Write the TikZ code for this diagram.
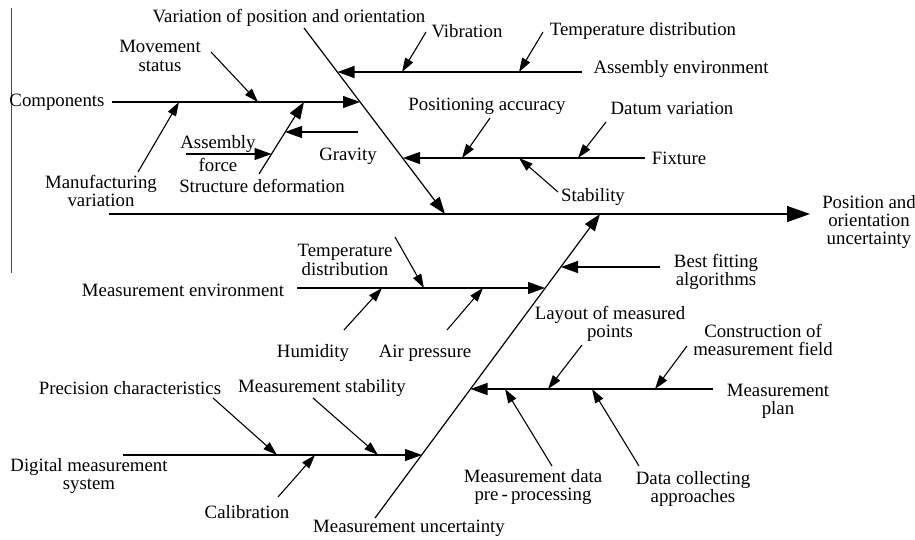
\documentclass[tikz,border=0pt]{standalone}
\usepackage{fontspec}
\setmainfont{Liberation Serif}
\usetikzlibrary{arrows.meta}
\begin{document}
\begin{tikzpicture}[x=1pt,y=-1pt,
  lbl/.style={font=\fontsize{18.8}{18.3}\selectfont, align=center, inner sep=0pt},
  spine/.style={line width=1.3pt, -{Triangle[length=23pt,width=16pt]}},
  bone/.style={line width=1.2pt, -{Triangle[length=17pt,width=12pt]}},
  cause/.style={line width=1.1pt, -{Triangle[length=14pt,width=9pt]}}]
\useasboundingbox (0,0) rectangle (915,539);
\fill[white] (0,0) rectangle (915,539);
% left border line
\coordinate (lt) at (11,8); \coordinate (lb) at (11,273);
\draw[line width=0.8pt, black!70] (lt) -- (lb);

% labels
\node[lbl] (varpos) at (289,18) {Variation of position and orientation};
\node[lbl] (vib) at (467,31) {Vibration};
\node[lbl] (tempdist) at (643,31) {Temperature distribution};
\node[lbl] (asmenv) at (681,69) {Assembly environment};
\node[lbl] (movst) at (160,56) {Movement\\status};
\node[lbl] (comp) at (57,102) {Components};
\node[lbl] (posacc) at (487,106) {Positioning accuracy};
\node[lbl] (datum) at (672,108) {Datum variation};
\node[lbl] (fixture) at (679,158) {Fixture};
\node[lbl] (asmf) at (218,144) {Assembly};
\node[lbl] (asmf2) at (218,165) {force};
\node[lbl] (gravity) at (348,156) {Gravity};
\node[lbl] (manuf) at (101,191) {Manufacturing\\variation};
\node[lbl] (structdef) at (262,186) {Structure deformation};
\node[lbl] (stability) at (593,197) {Stability};
\node[lbl] (result) at (869,222) {Position and\\orientation\\uncertainty};
\node[lbl] (temp2) at (345,260) {Temperature\\distribution};
\node[lbl] (bestfit) at (716,272) {Best fitting\\algorithms};
\node[lbl] (measenv) at (183,290) {Measurement environment};
\node[lbl] (layout) at (610,324) {Layout of measured\\points};
\node[lbl] (construct) at (763,340) {Construction of\\measurement field};
\node[lbl] (humidity) at (313,353) {Humidity};
\node[lbl] (airp) at (425,353) {Air pressure};
\node[lbl] (measplan) at (778,401) {Measurement\\plan};
\node[lbl] (precision) at (130,388) {Precision characteristics};
\node[lbl] (measstab) at (322,388) {Measurement stability};
\node[lbl] (digital) at (89,476) {Digital measurement\\system};
\node[lbl] (dataproc) at (533,487) {Measurement data\\pre\,-\,processing};
\node[lbl] (datacoll) at (693,489) {Data collecting\\approaches};
\node[lbl] (calib) at (247,512) {Calibration};
\node[lbl] (measunc) at (409,528) {Measurement uncertainty};

% main spine
\coordinate (s0) at (109,214); \coordinate (s1) at (810,214);
\draw[spine] (s0) -- (s1);
% diagonals
\coordinate (d1a) at (304,28); \coordinate (d1b) at (445,214);
\draw[bone] (d1a) -- (d1b);
\coordinate (d2a) at (375,518); \coordinate (d2b) at (600,214);
\draw[bone] (d2a) -- (d2b);

% horizontal bones
\coordinate (c0) at (112,102); \coordinate (c1) at (360,102);
\draw[bone] (c0) -- (c1);
\coordinate (ae0) at (582,72); \coordinate (ae1) at (337.5,72);
\draw[bone] (ae0) -- (ae1);
\coordinate (fx0) at (645,158); \coordinate (fx1) at (403,158);
\draw[bone] (fx0) -- (fx1);
\coordinate (bf0) at (660,267); \coordinate (bf1) at (561,267);
\draw[bone] (bf0) -- (bf1);
\coordinate (me0) at (297,288); \coordinate (me1) at (545,288);
\draw[bone] (me0) -- (me1);
\coordinate (mp0) at (713,389); \coordinate (mp1) at (470.5,389);
\draw[bone] (mp0) -- (mp1);
\coordinate (dm0) at (123,455); \coordinate (dm1) at (422,455);
\draw[bone] (dm0) -- (dm1);

% structure deformation sub-bone
\coordinate (sd0) at (259,174); \coordinate (sd1) at (304,102);
\draw[bone] (sd0) -- (sd1);
\coordinate (af0) at (186,154); \coordinate (af1) at (271.5,154);
\draw[bone] (af0) -- (af1);
\coordinate (gr0) at (358,132); \coordinate (gr1) at (285,132);
\draw[bone] (gr0) -- (gr1);

% cause arrows
\coordinate (ms0) at (211,52); \coordinate (ms1) at (258,102);
\draw[cause] (ms0) -- (ms1);
\coordinate (mv0) at (138,172); \coordinate (mv1) at (179,102);
\draw[cause] (mv0) -- (mv1);
\coordinate (vb0) at (426,32); \coordinate (vb1) at (402,72);
\draw[cause] (vb0) -- (vb1);
\coordinate (td0) at (543,32); \coordinate (td1) at (519,72);
\draw[cause] (td0) -- (td1);
\coordinate (pa0) at (490,118); \coordinate (pa1) at (462,158);
\draw[cause] (pa0) -- (pa1);
\coordinate (dv0) at (606,122); \coordinate (dv1) at (578,158);
\draw[cause] (dv0) -- (dv1);
\coordinate (st0) at (558,192); \coordinate (st1) at (519,158);
\draw[cause] (st0) -- (st1);
\coordinate (t20) at (395,237); \coordinate (t21) at (424,288);
\draw[cause] (t20) -- (t21);
\coordinate (hu0) at (344,330); \coordinate (hu1) at (382,288);
\draw[cause] (hu0) -- (hu1);
\coordinate (ap0) at (447,330); \coordinate (ap1) at (483,288);
\draw[cause] (ap0) -- (ap1);
\coordinate (lo0) at (582,345); \coordinate (lo1) at (548,389);
\draw[cause] (lo0) -- (lo1);
\coordinate (cm0) at (687,346); \coordinate (cm1) at (655,389);
\draw[cause] (cm0) -- (cm1);
\coordinate (dp0) at (552,466); \coordinate (dp1) at (505,389);
\draw[cause] (dp0) -- (dp1);
\coordinate (dc0) at (639,466); \coordinate (dc1) at (592,389);
\draw[cause] (dc0) -- (dc1);
\coordinate (pc0) at (213,398); \coordinate (pc1) at (277,455);
\draw[cause] (pc0) -- (pc1);
\coordinate (mst0) at (313,398); \coordinate (mst1) at (378,455);
\draw[cause] (mst0) -- (mst1);
\coordinate (ca0) at (278,497); \coordinate (ca1) at (315,455);
\draw[cause] (ca0) -- (ca1);
\end{tikzpicture}
\end{document}
